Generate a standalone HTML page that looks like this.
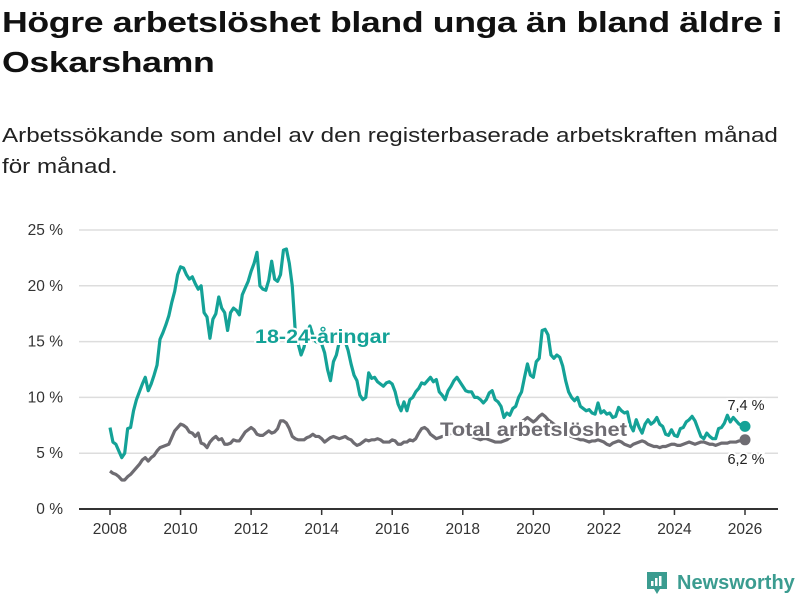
<!DOCTYPE html>
<html><head><meta charset="utf-8"><style>
body{margin:0;background:#fff;font-family:"Liberation Sans",sans-serif;}
#wrap{position:relative;width:800px;height:600px;overflow:hidden;}
h1{position:absolute;left:2px;top:3px;margin:0;font-size:29px;line-height:40px;font-weight:bold;color:#111;letter-spacing:-0.3px;transform:scaleX(1.23);transform-origin:0 0;white-space:nowrap;}
.sub{position:absolute;left:2px;top:120px;margin:0;font-size:20.5px;line-height:31px;color:#222;transform:scaleX(1.18);transform-origin:0 0;white-space:nowrap;}
svg{position:absolute;left:0;top:0;}
</style></head><body>
<div id="wrap">
<h1>Högre arbetslöshet bland unga än bland äldre i<br>Oskarshamn</h1>
<p class="sub">Arbetssökande som andel av den registerbaserade arbetskraften månad<br>för månad.</p>
<svg id="chart" width="800" height="600"></svg>
</div>
<script>
const startYear = 2008;
const yTicks = [0,5,10,15,20,25];
const xTicks = [2008,2010,2012,2014,2016,2018,2020,2022,2024,2026];
const youth = [
7.3,6.0,5.8,5.2,4.6,5.0,7.2,7.3,8.8,9.8,10.5,11.2,
11.8,10.6,11.2,12.0,12.9,15.2,15.8,16.5,17.3,18.5,19.5,21.0,
21.7,21.6,21.0,20.6,20.8,20.2,19.7,20.0,17.6,17.2,15.3,17.0,
17.5,19.0,18.0,17.6,16.0,17.6,18.0,17.8,17.4,19.2,19.8,20.4,
21.3,22.0,23.0,20.0,19.7,19.6,20.5,22.2,20.6,20.4,21.0,23.2,
23.3,22.0,20.0,16.0,14.8,13.8,14.5,15.8,16.4,15.6,15.0,14.9,
14.8,14.0,12.5,11.5,13.2,13.8,15.0,15.8,15.0,14.2,13.0,12.0,
11.5,10.2,9.8,10.0,12.2,11.7,11.8,11.4,11.2,11.0,11.3,11.4,
11.2,10.5,9.4,8.8,9.6,8.8,9.8,10.0,10.5,10.8,11.3,11.2,
11.5,11.8,11.4,11.6,10.5,10.2,9.8,10.6,11.0,11.5,11.8,11.4,
11.0,10.6,10.5,10.5,10.0,10.0,9.8,9.5,9.8,10.4,10.6,9.8,
9.6,9.2,8.2,8.6,8.4,9.0,9.2,10.0,10.5,11.8,13.0,12.0,
11.8,13.2,13.5,16.0,16.1,15.6,13.8,13.5,13.8,13.6,12.8,11.5,
10.5,10.0,9.7,10.0,9.2,9.0,8.8,8.9,8.6,8.5,9.5,8.6,
8.8,8.5,8.6,8.2,8.3,9.1,8.8,8.6,8.7,7.5,7.0,8.0,
7.3,6.8,7.6,8.0,7.6,7.8,8.2,7.6,7.4,6.7,6.6,7.1,
6.6,6.5,7.2,7.3,7.8,8.0,8.3,7.9,7.2,6.5,6.3,6.8,
6.5,6.3,6.3,7.2,7.3,7.7,8.4,7.8,8.2,7.9,7.6,7.5,
7.4];
const total = [
3.4,3.2,3.1,2.9,2.6,2.6,2.9,3.1,3.4,3.7,4.0,4.4,
4.6,4.3,4.6,4.8,5.2,5.5,5.6,5.7,5.8,6.4,7.0,7.3,
7.6,7.5,7.3,6.9,6.8,6.5,6.8,5.9,5.8,5.5,6.0,6.3,
6.5,6.2,6.3,5.8,5.8,5.9,6.2,6.1,6.1,6.5,6.9,7.1,
7.3,7.1,6.7,6.6,6.6,6.8,7.0,6.8,6.9,7.2,7.9,7.9,
7.7,7.2,6.5,6.3,6.2,6.2,6.2,6.4,6.5,6.7,6.5,6.5,
6.3,6.0,6.2,6.4,6.5,6.4,6.3,6.4,6.5,6.3,6.2,5.9,
5.7,5.8,6.0,6.2,6.1,6.2,6.2,6.3,6.2,6.0,6.0,6.0,
6.2,6.1,5.8,5.8,6.0,6.0,6.2,6.1,6.3,6.8,7.2,7.3,
7.1,6.7,6.5,6.3,6.4,6.5,6.5,6.6,6.8,6.9,6.8,6.8,
6.8,6.7,6.6,6.5,6.4,6.3,6.2,6.3,6.3,6.2,6.1,6.0,
6.0,6.0,6.1,6.2,6.4,6.8,7.2,7.5,7.8,8.0,8.2,8.0,
7.8,8.0,8.3,8.5,8.3,8.0,7.8,7.6,7.4,7.2,7.0,6.8,
6.6,6.5,6.4,6.3,6.2,6.2,6.1,6.0,6.1,6.1,6.2,6.1,
6.0,5.8,5.7,5.9,6.0,6.1,6.0,5.8,5.7,5.6,5.8,5.9,
6.0,6.1,6.0,5.8,5.7,5.6,5.6,5.5,5.6,5.6,5.7,5.8,
5.8,5.7,5.7,5.8,5.9,6.0,5.9,5.8,5.9,6.0,6.0,5.9,
5.8,5.8,5.7,5.8,5.9,5.9,5.9,6.0,6.0,6.0,6.1,6.1,
6.2];

const NS="http://www.w3.org/2000/svg";
const svg=document.getElementById('chart');
const X0=79,X1=778,Y0=509,Y25=230;
function xs(t){return 110+(t-2008)*(745-110)/18;}
function ys(v){return Y0-(v/25)*(Y0-Y25);}
function mk(tag,attrs,parent){const e=document.createElementNS(NS,tag);for(const k in attrs)e.setAttribute(k,attrs[k]);(parent||svg).appendChild(e);return e;}

yTicks.forEach(v=>{
  const l=mk('line',{x1:X0,x2:X1,y1:ys(v),y2:ys(v),stroke:v===0?'#333':'#ddd','stroke-width':v===0?2:1.5});
  
  
  const t=mk('text',{x:63,y:ys(v)+5,'text-anchor':'end','font-size':15.5,fill:'#333'});
  t.textContent=v+' %';
  
  
});
xTicks.forEach(yr=>{
  const l=mk('line',{x1:xs(yr),x2:xs(yr),y1:Y0,y2:Y0+6,stroke:'#333','stroke-width':1.5});
  
  
  const t=mk('text',{x:xs(yr),y:Y0+25,'text-anchor':'middle','font-size':15.5,fill:'#333'});
  t.textContent=yr;
  
  
});
function series(arr,color,name){
  const d=arr.map((v,i)=>(i?'L':'M')+xs(startYear+i/12).toFixed(2)+','+ys(v).toFixed(2)).join(' ');
  const p=mk('path',{d:d,fill:'none',stroke:color,'stroke-width':3.2,'stroke-linejoin':'round'});
  
  
  const n=arr.length-1;
  const c=mk('circle',{cx:xs(startYear+n/12),cy:ys(arr[n]),r:5.5,fill:color});
  
  
}
series(total,'#6e6c72','total');
series(youth,'#14a297','youth');
function label(x,y,txt,color,size,weight,name,anchor,len){
  const a={x:x,y:y,'font-size':size,'font-weight':weight,fill:color,stroke:'#fff','stroke-width':4,'paint-order':'stroke','text-anchor':anchor||'start'};
  if(len){a.textLength=len;a.lengthAdjust='spacingAndGlyphs';}
  const t=mk('text',a);
  t.textContent=txt;
  
  
}
label(255,343,'18-24-åringar','#14a297',19,'bold','youth-series-label',null,135);
label(440,436,'Total arbetslöshet','#6e6c72',19,'bold','total-series-label',null,187);
label(746,410,'7,4 %','#222',14.5,'normal','youth-end-value','middle');
label(746,464,'6,2 %','#222',14.5,'normal','total-end-value','middle');
</script>
<div style="position:absolute;left:645px;top:570px;display:flex;align-items:center;">
<svg width="24" height="26" style="position:static"><path d="M2 2h20v17h-7l-3 5-3-5H2z" fill="#3b9c90"/><rect x="6" y="11" width="2.5" height="5" fill="#fff"/><rect x="10" y="8" width="2.5" height="8" fill="#fff"/><rect x="14" y="6" width="2.5" height="10" fill="#fff"/></svg>
<span style="margin-left:8px;font-size:20px;font-weight:bold;color:#3b9c90;">Newsworthy</span>
</div>
</body></html>
